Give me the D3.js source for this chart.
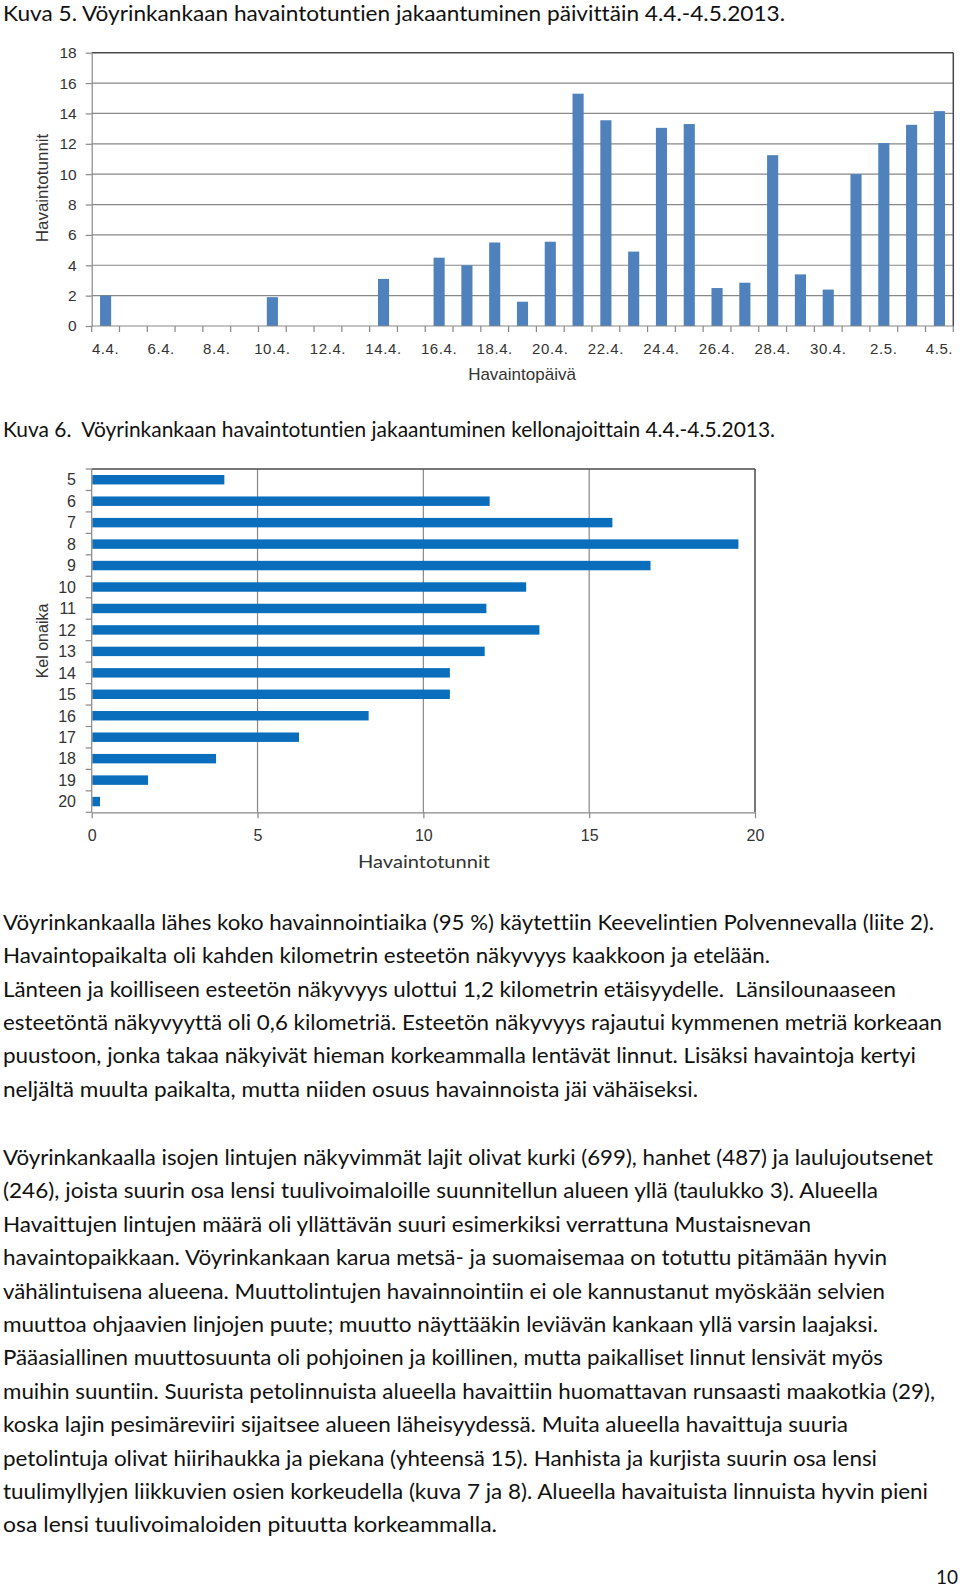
<!DOCTYPE html>
<html>
<head>
<meta charset="utf-8">
<script src="https://cdn.jsdelivr.net/npm/d3@7"></script>
<style>
  html, body { margin: 0; padding: 0; background: #fff; }
  svg { display: block; }
  text { font-variant-ligatures: none; white-space: pre; }
</style>
</head>
<body>
<script>
// ---------- DATA ----------
const dates = ["4.4.","5.4.","6.4.","7.4.","8.4.","9.4.","10.4.","11.4.","12.4.","13.4.","14.4.","15.4.","16.4.","17.4.","18.4.","19.4.","20.4.","21.4.","22.4.","23.4.","24.4.","25.4.","26.4.","27.4.","28.4.","29.4.","30.4.","1.5.","2.5.","3.5.","4.5."];
const dailyHours = [2.0,0,0,0,0,0,1.9,0,0,0,3.1,0,4.5,4.0,5.5,1.6,5.55,15.3,13.55,4.9,13.05,13.3,2.5,2.85,11.25,3.4,2.4,10.0,12.05,13.25,14.15];
const dailyTicks = [0,2,4,6,8,10,12,14,16,18];

const hours = ["5","6","7","8","9","10","11","12","13","14","15","16","17","18","19","20"];
const hourlyHours = [4.0,12.0,15.7,19.5,16.85,13.1,11.9,13.5,11.85,10.8,10.8,8.35,6.25,3.75,1.7,0.25];
const hourlyTicks = [0,5,10,15,20];

const title1 = "Kuva 5. Vöyrinkankaan havaintotuntien jakaantuminen päivittäin 4.4.-4.5.2013.";
const title2 = "Kuva 6.  Vöyrinkankaan havaintotuntien jakaantuminen kellonajoittain 4.4.-4.5.2013.";
const axis1Y = "Havaintotunnit", axis1X = "Havaintopäivä";
const axis2Y = "Kel onaika", axis2X = "Havaintotunnit";

const para1 = [
  "Vöyrinkankaalla lähes koko havainnointiaika (95 %) käytettiin Keevelintien Polvennevalla (liite 2).",
  "Havaintopaikalta oli kahden kilometrin esteetön näkyvyys kaakkoon ja etelään.",
  "Länteen ja koilliseen esteetön näkyvyys ulottui 1,2 kilometrin etäisyydelle.  Länsilounaaseen",
  "esteetöntä näkyvyyttä oli 0,6 kilometriä. Esteetön näkyvyys rajautui kymmenen metriä korkeaan",
  "puustoon, jonka takaa näkyivät hieman korkeammalla lentävät linnut. Lisäksi havaintoja kertyi",
  "neljältä muulta paikalta, mutta niiden osuus havainnoista jäi vähäiseksi."
];
const para2 = [
  "Vöyrinkankaalla isojen lintujen näkyvimmät lajit olivat kurki (699), hanhet (487) ja laulujoutsenet",
  "(246), joista suurin osa lensi tuulivoimaloille suunnitellun alueen yllä (taulukko 3). Alueella",
  "Havaittujen lintujen määrä oli yllättävän suuri esimerkiksi verrattuna Mustaisnevan",
  "havaintopaikkaan. Vöyrinkankaan karua metsä- ja suomaisemaa on totuttu pitämään hyvin",
  "vähälintuisena alueena. Muuttolintujen havainnointiin ei ole kannustanut myöskään selvien",
  "muuttoa ohjaavien linjojen puute; muutto näyttääkin leviävän kankaan yllä varsin laajaksi.",
  "Pääasiallinen muuttosuunta oli pohjoinen ja koillinen, mutta paikalliset linnut lensivät myös",
  "muihin suuntiin. Suurista petolinnuista alueella havaittiin huomattavan runsaasti maakotkia (29),",
  "koska lajin pesimäreviiri sijaitsee alueen läheisyydessä. Muita alueella havaittuja suuria",
  "petolintuja olivat hiirihaukka ja piekana (yhteensä 15). Hanhista ja kurjista suurin osa lensi",
  "tuulimyllyjen liikkuvien osien korkeudella (kuva 7 ja 8). Alueella havaituista linnuista hyvin pieni",
  "osa lensi tuulivoimaloiden pituutta korkeammalla."
];
const pageNumber = "10";

// ---------- LAYOUT (not data) ----------
const W = 960, H = 1593;
const para1Right = [934, 770, 896, 942, 916, 698];
const para2Right = [933, 878, 811, 887, 885, 878, 883, 935, 848, 877, 928, 497];

const textFont = "Lato, 'Open Sans', sans-serif";
const chartFont = "'Liberation Sans', Arial, sans-serif";
const gridCol = "#888888", borderCol = "#4a4a4a", labelCol = "#333333";

const svg = d3.select("body").append("svg").attr("width", W).attr("height", H);
svg.append("rect").attr("width", W).attr("height", H).attr("fill", "#fff");

function fitText(sel, x, y, str, right, size) {
  return sel.append("text")
    .attr("x", x).attr("y", y)
    .attr("font-family", textFont).attr("font-size", size)
    .attr("fill", "#111")
    .attr("textLength", right - x)
    .attr("lengthAdjust", "spacingAndGlyphs")
    .text(str);
}

// Titles
fitText(svg, 3, 20.7, title1, 785, 20.5);
fitText(svg, 3, 437.3, title2, 775, 20.5);

// ---------- CHART 1 ----------
{
  const left = 91.7, right = 953.3, top = 52.7, bottom = 326;
  const x = d3.scaleBand().domain(dates).range([left, right]).paddingInner(0.6).paddingOuter(0.3);
  const y = d3.scaleLinear().domain([0, 18]).range([bottom, top]);
  const g = svg.append("g");

  g.append("g").selectAll("line").data(dailyTicks.filter(t => t > 0 && t < 18)).join("line")
    .attr("x1", left).attr("x2", right)
    .attr("y1", d => y(d)).attr("y2", d => y(d))
    .attr("stroke", gridCol).attr("stroke-width", 1.2);

  g.append("g").selectAll("rect").data(dates.map((d, i) => ({d, v: dailyHours[i]})).filter(o => o.v > 0)).join("rect")
    .attr("x", o => x(o.d)).attr("width", x.bandwidth())
    .attr("y", o => y(o.v)).attr("height", o => y(0) - y(o.v))
    .attr("fill", "#4F81BD");

  g.append("line").attr("x1", left).attr("x2", right).attr("y1", y(18)).attr("y2", y(18))
    .attr("stroke", borderCol).attr("stroke-width", 1.5);
  g.append("line").attr("x1", right).attr("x2", right).attr("y1", y(18)).attr("y2", y(0))
    .attr("stroke", borderCol).attr("stroke-width", 1.5);

  const yAxis = d3.axisLeft(y).tickValues(dailyTicks).tickSize(6).tickPadding(9).tickSizeOuter(0);
  const ya = g.append("g").attr("transform", `translate(${left},0)`).call(yAxis);
  ya.select(".domain").attr("stroke", gridCol).attr("stroke-width", 1.2);
  ya.selectAll(".tick line").attr("stroke", gridCol).attr("stroke-width", 1.2);
  ya.selectAll(".tick text").attr("font-family", chartFont).attr("font-size", 15.5).attr("fill", labelCol);

  const xa = g.append("g").attr("transform", `translate(0,${bottom})`);
  xa.append("line").attr("x1", left).attr("x2", right).attr("stroke", gridCol).attr("stroke-width", 1.2);
  const edges = dates.map(d => x(d) + x.bandwidth() / 2 - x.step() / 2).concat([right]);
  xa.selectAll("line.tk").data(edges).join("line").attr("class", "tk")
    .attr("x1", d => d).attr("x2", d => d).attr("y1", 0).attr("y2", 6)
    .attr("stroke", gridCol).attr("stroke-width", 1.2);
  xa.selectAll("text").data(dates.filter((d, i) => i % 2 === 0)).join("text")
    .attr("x", d => x(d) + x.bandwidth() / 2).attr("y", 27.5)
    .attr("text-anchor", "middle")
    .attr("font-family", chartFont).attr("font-size", 15).attr("fill", labelCol)
    .attr("letter-spacing", 0.6)
    .text(d => d);

  g.append("text").attr("transform", `translate(47.5,188) rotate(-90)`)
    .attr("text-anchor", "middle").attr("font-family", chartFont).attr("font-size", 17).attr("fill", labelCol)
    .text(axis1Y);
  g.append("text").attr("x", 522).attr("y", 380)
    .attr("text-anchor", "middle").attr("font-family", chartFont).attr("font-size", 17).attr("fill", labelCol)
    .text(axis1X);
}

// ---------- CHART 2 ----------
{
  const left = 91.7, right = 755, top = 469, bottom = 812.3;
  const y = d3.scaleBand().domain(hours).range([top, bottom]).paddingInner(0.56).paddingOuter(0.28);
  const x = d3.scaleLinear().domain([0, 20]).range([left, right]);
  const g = svg.append("g");

  g.append("g").selectAll("line").data(hourlyTicks.filter(t => t > 0 && t < 20)).join("line")
    .attr("x1", d => x(d)).attr("x2", d => x(d))
    .attr("y1", top).attr("y2", bottom)
    .attr("stroke", gridCol).attr("stroke-width", 1.2);

  g.append("g").selectAll("rect").data(hours.map((h, i) => ({h, v: hourlyHours[i]}))).join("rect")
    .attr("x", x(0) + 0.6).attr("width", o => x(o.v) - x(0) - 0.6)
    .attr("y", o => y(o.h)).attr("height", y.bandwidth())
    .attr("fill", "#0A6EBD");

  g.append("line").attr("x1", left).attr("x2", right).attr("y1", top).attr("y2", top)
    .attr("stroke", borderCol).attr("stroke-width", 1.5);
  g.append("line").attr("x1", right).attr("x2", right).attr("y1", top).attr("y2", bottom)
    .attr("stroke", borderCol).attr("stroke-width", 1.5);

  const ya = g.append("g");
  ya.append("line").attr("x1", left).attr("x2", left).attr("y1", top).attr("y2", bottom)
    .attr("stroke", gridCol).attr("stroke-width", 1.2);
  const edges = hours.map(h => y(h) + y.bandwidth() / 2 - y.step() / 2).concat([bottom]);
  ya.selectAll("line.tk").data(edges).join("line").attr("class", "tk")
    .attr("x1", left - 6).attr("x2", left).attr("y1", d => d).attr("y2", d => d)
    .attr("stroke", gridCol).attr("stroke-width", 1.2);
  ya.selectAll("text").data(hours).join("text")
    .attr("x", 76).attr("y", h => y(h) + y.bandwidth() / 2)
    .attr("dy", "0.36em").attr("text-anchor", "end")
    .attr("font-family", chartFont).attr("font-size", 16).attr("fill", labelCol)
    .text(h => h);

  const xAxis = d3.axisBottom(x).tickValues(hourlyTicks).tickSize(6).tickPadding(11).tickSizeOuter(0);
  const xa = g.append("g").attr("transform", `translate(0,${bottom})`).call(xAxis);
  xa.select(".domain").attr("stroke", gridCol).attr("stroke-width", 1.2);
  xa.selectAll(".tick line").attr("stroke", gridCol).attr("stroke-width", 1.2);
  xa.selectAll(".tick text").attr("font-family", chartFont).attr("font-size", 16).attr("fill", labelCol);

  g.append("text").attr("transform", `translate(47.5,641) rotate(-90)`)
    .attr("text-anchor", "middle").attr("font-family", chartFont).attr("font-size", 16).attr("fill", labelCol)
    .text(axis2Y);
  fitText(g, 358, 868, axis2X, 490, 17).attr("fill", "#333");
}

// ---------- BODY TEXT ----------
para1.forEach((s, i) => fitText(svg, 3, 930 + 33.33 * i, s, para1Right[i], 20.5));
para2.forEach((s, i) => fitText(svg, 3, 1165 + 33.4 * i, s, para2Right[i], 20.5));
svg.append("text").attr("x", 958).attr("y", 1584).attr("text-anchor", "end")
  .attr("font-family", textFont).attr("font-size", 19).attr("fill", "#111")
  .text(pageNumber);
</script>
</body>
</html>
